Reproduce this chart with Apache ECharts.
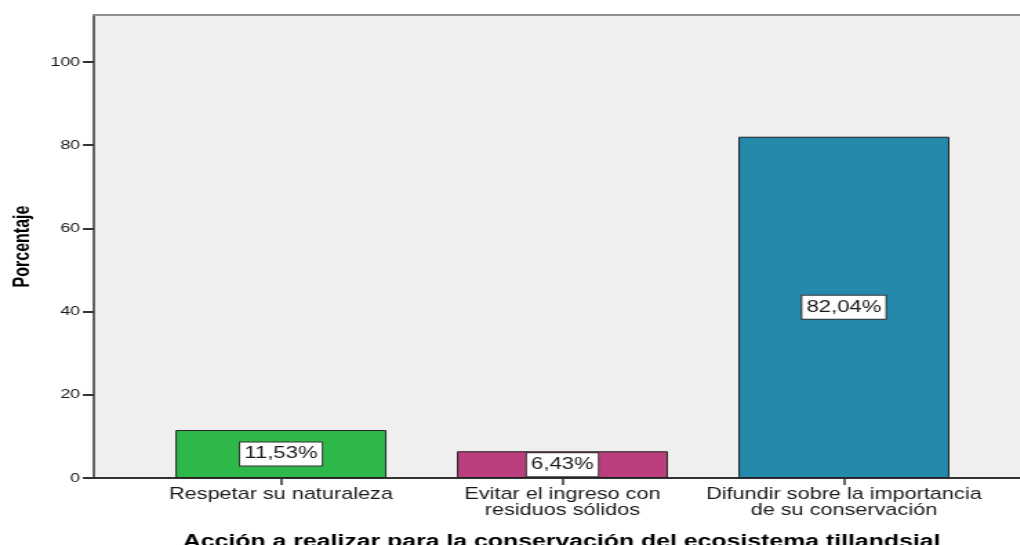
<!DOCTYPE html>
<html>
<head>
<meta charset="utf-8">
<script src="https://cdn.jsdelivr.net/npm/echarts@6/dist/echarts.min.js"></script>
<style>
  html, body { margin: 0; padding: 0; background: #ffffff; overflow: hidden; }
  /* The chart is laid out narrow and widened horizontally, like the exported figure */
  #chart {
    width: 739.13px; height: 545px;
    transform-origin: 0 0;
    transform: scaleX(1.38);
  }
</style>
</head>
<body>
<div id="chart"></div>
<script>
// Categories and percentages for each action
const categories = [
  'Respetar su naturaleza',
  'Evitar el ingreso con\nresiduos sólidos',
  'Difundir sobre la importancia\nde su conservación'
];
const percentages = [11.53, 6.43, 82.04];
const barColors = ['#2eb84a', '#bb3f7c', '#2589ac'];
const yTicks = [0, 20, 40, 60, 80, 100];
const yMax = 111.3;
const xTitle = 'Acción a realizar para la conservación del ecosistema tillandsial';
const yTitle = 'Porcentaje';

const font = 'Liberation Sans, Arial, sans-serif';
const axisDark = '#333333';

const chart = echarts.init(document.getElementById('chart'), null, { renderer: 'canvas' });

chart.setOption({
  animation: false,
  backgroundColor: '#ffffff',
  grid: [
    // plot frame carrying the value axis
    { left: 68.1, right: 0, top: 15, bottom: 67, show: true, backgroundColor: '#efefef', borderWidth: 0 },
    // band area for the bars
    { left: 101.6, right: 25.5, top: 15, bottom: 67 }
  ],
  xAxis: [
    {
      gridIndex: 0, type: 'value', min: 0, max: 1, position: 'bottom',
      axisLine: { show: true, onZero: false, lineStyle: { color: axisDark, width: 2 } },
      axisTick: { show: false }, axisLabel: { show: false }, splitLine: { show: false }
    },
    {
      gridIndex: 0, type: 'value', min: 0, max: 1, position: 'top',
      axisLine: { show: true, onZero: false, lineStyle: { color: '#8f8f8f', width: 2 } },
      axisTick: { show: false }, axisLabel: { show: false }, splitLine: { show: false }
    },
    {
      gridIndex: 1, type: 'category', data: categories, position: 'bottom',
      axisLine: { show: false },
      axisTick: { show: true, alignWithLabel: true, length: 7, lineStyle: { color: axisDark, width: 1.5 } },
      axisLabel: {
        interval: 0, margin: 9, color: '#1a1a1a',
        fontFamily: font, fontSize: 15.7, lineHeight: 16
      }
    }
  ],
  yAxis: [
    {
      gridIndex: 0, type: 'value', min: 0, max: yMax, interval: 20,
      name: yTitle, nameLocation: 'middle', nameGap: 44, nameRotate: 90,
      nameTextStyle: { fontFamily: font, fontWeight: 'bold', fontSize: 16, color: '#000' },
      axisLine: { show: true, lineStyle: { color: axisDark, width: 1.5 } },
      axisTick: { show: true, length: 8, customValues: yTicks, lineStyle: { color: axisDark, width: 2 } },
      axisLabel: {
        margin: 10, color: '#1a1a1a', fontFamily: font, fontSize: 13,
        customValues: yTicks,
        formatter: v => (yTicks.indexOf(v) >= 0 ? String(v) : '')
      },
      splitLine: { show: false }
    },
    {
      gridIndex: 1, type: 'value', min: 0, max: yMax, show: false, splitLine: { show: false }
    }
  ],
  series: [
    {
      type: 'bar',
      xAxisIndex: 2, yAxisIndex: 1,
      barWidth: 152.9,
      data: percentages.map((v, i) => ({
        value: v,
        itemStyle: { color: barColors[i], borderColor: '#222', borderWidth: 1 }
      })),
      label: {
        show: true, position: 'inside',
        formatter: p => p.value.toFixed(2).replace('.', ',') + '%',
        fontFamily: font, fontSize: 16, color: '#1a1a1a',
        backgroundColor: '#ffffff', borderColor: '#333', borderWidth: 1,
        padding: [4, 3, 3, 3]
      }
    }
  ],
  graphic: [
    {
      type: 'text', x: 407, y: 542,
      style: {
        text: xTitle, textAlign: 'center', textVerticalAlign: 'middle',
        font: 'bold 18px ' + font, fill: '#000'
      }
    }
  ]
});
</script>
</body>
</html>
